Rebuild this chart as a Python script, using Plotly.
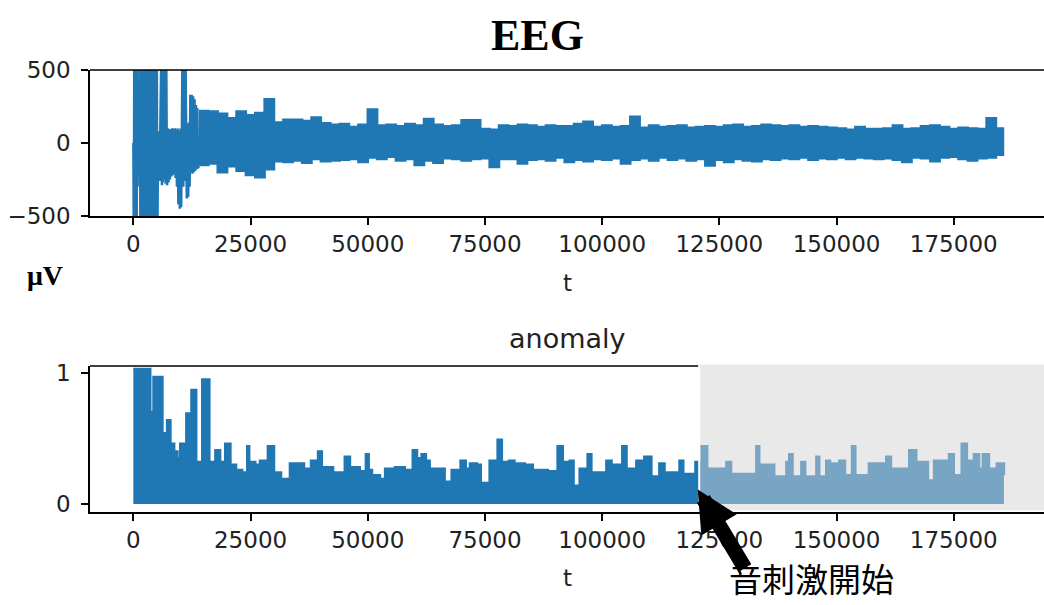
import plotly.graph_objects as go

# ---------------- data ----------------
x_tick_vals = [0, 25000, 50000, 75000, 100000, 125000, 150000, 175000]
x_tick_text = ["0", "25000", "50000", "75000", "100000", "125000", "150000", "175000"]
eeg_tick_vals = [-500, 0, 500]
eeg_tick_text = ["\u2212500", "0", "500"]
anom_tick_vals = [0, 1]
anom_tick_text = ["0", "1"]

# EEG: early large-amplitude section (sample index, microvolts)
eeg_early_t = [0, 100, 200, 300, 400, 500, 600, 700, 800, 900, 1000, 1100, 1200, 1300,
               1400, 1500, 1600, 1700, 1800, 1900, 2000, 2100, 2200, 2300, 2400, 2500,
               2600, 2700, 2800, 2900, 3000, 3100, 3200, 3300, 3400, 3500, 3600, 3700,
               3800, 3900, 4000, 4100, 4200, 4300, 4400, 4500, 4600, 4700, 4800, 4900,
               5000, 5100, 5200, 5400, 5600, 5800, 6000, 6100, 6200, 6300, 6400, 6500,
               6600, 6700, 6800, 6900, 7000, 7100, 7200, 7350, 7500, 7650, 7800, 7950,
               8100, 8250, 8400, 8550, 8700, 8850, 9000, 9150, 9300, 9450, 9600, 9750,
               9900, 10050, 10200, 10350, 10500, 10650, 10800, 10950, 11100, 11250,
               11400, 11550, 11700, 11850, 12000, 12150, 12300, 12450, 12600, 12750,
               12900, 13050, 13200, 13350, 13500, 13650, 13800, 14000]
eeg_early_v = [0, -700, 700, -700, 700, -700, 700, -700, 700, -300, 60, -80, 40, -120,
               700, -700, 700, -700, 700, -700, 700, -700, 700, -700, 700, -700,
               700, -700, 700, -700, 700, -700, 30, -60, 700, -700, 700, -700,
               700, -700, 700, -700, 700, -700, 700, -700, 700, -700, 700, -700,
               700, -700, -300, 80, -260, 100, 700, -290, 700, -270, 700, -250,
               700, -230, 700, -280, 700, 90, -290, 100, -270, 95, -250, 90,
               -230, 100, -220, 95, -210, 100, -240, 90, -300, 100, -420, 80,
               -450, 100, -440, 90, 700, -300, 700, -260, 700, 120,
               -380, 130, -370, 140, -300, 330, -200, 330, -210, 320,
               -200, 300, -190, 260, -180, 240, -170, -160]

# EEG: envelope of the steady section
eeg_env_t = [14000, 16000, 18000, 20000, 22000, 24000, 26000, 28000, 30000, 32000,
             34000, 36000, 38000, 40000, 42000, 44000, 46000, 48000, 50000, 52000,
             54000, 56000, 58000, 60000, 62000, 64000, 66000, 68000, 70000, 72000,
             74000, 76000, 78000, 80000, 82000, 84000, 86000, 88000, 90000, 92000,
             94000, 96000, 98000, 100000, 102000, 104000, 106000, 108000, 110000, 112000,
             114000, 116000, 118000, 120000, 122000, 124000, 126000, 128000, 130000, 132000,
             134000, 136000, 138000, 140000, 142000, 144000, 146000, 148000, 150000, 152000,
             154000, 156000, 158000, 160000, 162000, 164000, 166000, 168000, 170000, 172000,
             174000, 176000, 178000, 180000, 182000, 184000, 185500]
eeg_upper = [220, 215, 200, 170, 215, 190, 205, 300, 140, 160,
             160, 150, 175, 135, 125, 130, 110, 125, 230, 120,
             125, 115, 130, 120, 165, 125, 115, 120, 155, 155,
             95, 90, 120, 115, 125, 120, 110, 120, 115, 115,
             130, 145, 110, 120, 110, 115, 180, 105, 120, 110,
             115, 120, 105, 110, 115, 110, 120, 125, 110, 115,
             125, 120, 115, 120, 110, 115, 110, 105, 100, 90,
             110, 95, 95, 100, 120, 95, 100, 115, 120, 110,
             95, 105, 100, 95, 170, 100, 75]
eeg_lower = [-150, -150, -140, -200, -160, -190, -220, -235, -180, -125,
             -130, -120, -135, -110, -125, -120, -115, -110, -130, -100,
             -110, -95, -120, -110, -150, -120, -135, -105, -110, -120,
             -110, -105, -165, -110, -110, -140, -115, -110, -120, -100,
             -130, -115, -125, -110, -115, -105, -140, -115, -105, -120,
             -100, -115, -105, -120, -110, -155, -115, -130, -110, -120,
             -125, -110, -115, -105, -110, -100, -115, -105, -110, -100,
             -110, -100, -105, -110, -105, -115, -130, -100, -105, -125,
             -100, -95, -110, -120, -105, -100, -80]

# anomaly score peaks (sample index, score)
anom_t = [0, 3600, 4300, 5100, 5300, 6200, 7200, 7900, 8700, 9400, 9600, 10000, 11300,
          12400, 13400, 14700, 16200, 17500, 18500, 19600, 20700, 21900, 23200, 24300,
          24700, 26000, 27000, 28700, 30000, 31500, 33400, 36400, 37900, 39400, 40200,
          42600, 44700, 45100, 46200, 48300, 49600, 50200, 50900, 52600, 53700, 55800,
          57900, 59600, 60500, 61500, 62400, 63200, 66400, 67900, 69800, 70900, 71800,
          73300, 74100, 76000, 77700, 78600, 80100, 81300, 83500, 85200, 88400, 90500,
          91600, 93100, 93900, 95200, 96900, 97700, 100900, 102000, 104300, 105200,
          107300, 109000, 110500, 112200, 113300, 116500, 117300, 119900, 121200,
          122400, 126500, 127500, 132900, 133500, 136700, 139300, 139900, 140600,
          142500, 143300, 145700, 146300, 147800, 148600, 150600, 151800, 153300,
          154000, 156900, 160600, 161600, 165500, 167000, 169500, 170800, 174000,
          175000, 176700, 177800, 179300, 180400, 181200, 182500, 184200, 185700]
anom_v = [1.03, 0.70, 0.97, 0.85, 0.97, 0.54, 0.64, 0.46, 0.40, 0.35, 0.26, 0.46, 0.69,
          0.87, 0.32, 0.95, 0.32, 0.41, 0.32, 0.46, 0.30, 0.26, 0.24, 0.44,
          0.32, 0.30, 0.33, 0.44, 0.24, 0.19, 0.31, 0.27, 0.33, 0.40, 0.28,
          0.24, 0.24, 0.36, 0.28, 0.25, 0.38, 0.26, 0.22, 0.19, 0.27, 0.28,
          0.26, 0.41, 0.35, 0.38, 0.33, 0.27, 0.17, 0.26, 0.33, 0.27, 0.31,
          0.30, 0.16, 0.33, 0.49, 0.32, 0.33, 0.31, 0.30, 0.26, 0.25, 0.44,
          0.32, 0.33, 0.14, 0.27, 0.38, 0.24, 0.33, 0.30, 0.44, 0.27,
          0.33, 0.36, 0.21, 0.31, 0.24, 0.33, 0.23, 0.32, 0.44,
          0.27, 0.32, 0.23, 0.44, 0.30, 0.21, 0.32, 0.38, 0.21,
          0.32, 0.21, 0.36, 0.21, 0.33, 0.31, 0.33, 0.22, 0.44,
          0.22, 0.31, 0.36, 0.27, 0.41, 0.32, 0.18, 0.33, 0.38,
          0.22, 0.46, 0.33, 0.38, 0.27, 0.38, 0.27, 0.31, 0.22]

stimulus_start = 120700
x_range = [-9250, 194250]

BLUE = "#1f77b4"
TICK_FONT = dict(family="DejaVu Sans", size=23, color="#222222")

fig = go.Figure()

# EEG traces
fig.add_trace(go.Scatter(x=eeg_early_t, y=eeg_early_v, mode="lines",
                         line=dict(color=BLUE, width=2.5), xaxis="x", yaxis="y",
                         showlegend=False, hoverinfo="skip"))
fig.add_trace(go.Scatter(x=eeg_env_t + eeg_env_t[::-1], y=eeg_upper + eeg_lower[::-1],
                         mode="lines", fill="toself", fillcolor=BLUE, line_shape="hv",
                         line=dict(color=BLUE, width=2.5), xaxis="x", yaxis="y",
                         showlegend=False, hoverinfo="skip"))

# anomaly trace
fig.add_trace(go.Scatter(x=anom_t, y=anom_v, mode="lines", line_shape="hv",
                         fill="tozeroy", fillcolor=BLUE,
                         line=dict(color=BLUE, width=2.5), xaxis="x2", yaxis="y2",
                         showlegend=False, hoverinfo="skip"))

axis_common = dict(showline=True, linecolor="black", linewidth=1.5, ticks="outside",
                   ticklen=7, tickwidth=1.5, tickcolor="black", showgrid=False,
                   zeroline=False, tickfont=TICK_FONT, automargin=False)

fig.update_layout(
    width=1044, height=605,
    margin=dict(l=90, r=0, t=0, b=0, autoexpand=False),
    paper_bgcolor="white", plot_bgcolor="white",
    xaxis=dict(domain=[0, 1], anchor="y", range=x_range, tickvals=x_tick_vals,
               ticktext=x_tick_text, **axis_common),
    yaxis=dict(domain=[0.643, 0.8843], anchor="x", range=[-500, 500],
               tickvals=eeg_tick_vals, ticktext=eeg_tick_text, ticklabelstandoff=6,
               **axis_common),
    xaxis2=dict(domain=[0, 1], anchor="y2", range=x_range, tickvals=x_tick_vals,
                ticktext=x_tick_text, **axis_common),
    yaxis2=dict(domain=[0.1537, 0.395], anchor="x2", range=[-0.061, 1.053],
                tickvals=anom_tick_vals, ticktext=anom_tick_text, ticklabelstandoff=6,
                **axis_common),
)

shapes = [
    dict(type="line", xref="x domain", yref="y domain", x0=0, x1=1, y0=1, y1=1,
         line=dict(color="black", width=1.5)),
    dict(type="line", xref="x2", yref="y2 domain", x0=x_range[0], x1=stimulus_start, y0=1, y1=1,
         line=dict(color="black", width=1.5)),
    dict(type="rect", xref="x2", yref="y2 domain", x0=stimulus_start, x1=x_range[1],
         y0=0.012, y1=1.01, fillcolor="lightgray", opacity=0.5, layer="above",
         line=dict(width=0)),
    dict(type="line", xref="x2", yref="y2 domain", x0=stimulus_start, x1=stimulus_start,
         y0=0.012, y1=1.01, line=dict(color="white", width=2), layer="above"),
]
fig.update_layout(shapes=shapes)

def label(text, px, py, font):
    return dict(text=text, xref="paper", yref="paper", x=(px - 90) / 954, y=1 - py / 605,
                xanchor="center", yanchor="middle", showarrow=False, font=font)

annotations = [
    label("<b>EEG</b>", 537, 35, dict(family="Liberation Serif", size=44, color="black")),
    label("<b>μV</b>", 45, 275, dict(family="Liberation Serif", size=28, color="black")),
    label("t", 567, 283, TICK_FONT),
    label("anomaly", 567, 338, dict(family="DejaVu Sans", size=27, color="#222222")),
    label("t", 567, 578, TICK_FONT),
    dict(text="", xref="x2", yref="y2", x=stimulus_start - 300, y=0.11,
         ax=48, ay=80, showarrow=True, arrowhead=2, arrowsize=0.55, arrowwidth=15,
         arrowcolor="black"),
    dict(text="音刺激開始", xref="paper", yref="paper", x=(811 - 90) / 954, y=0.003,
         xanchor="center", yanchor="bottom", showarrow=False, borderpad=0,
         font=dict(family="Noto Sans CJK JP", size=33, color="black")),
]
fig.update_layout(annotations=annotations)

fig.write_html("out.html", config={"displayModeBar": False},
               post_script="document.body.style.margin='0px';document.body.style.overflow='hidden';")
